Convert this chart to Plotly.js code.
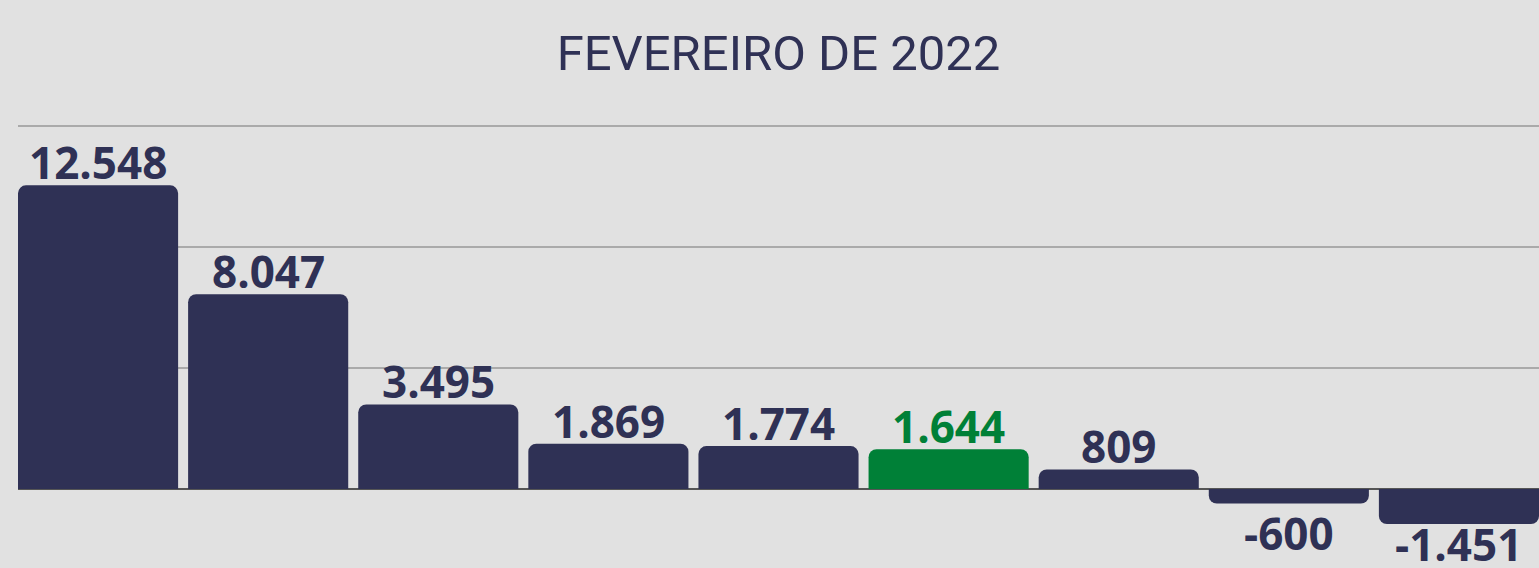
<!DOCTYPE html>
<html>
<head>
<meta charset="utf-8">
<script src="https://cdn.plot.ly/plotly-3.0.1.min.js"></script>
<style>
html,body{margin:0;padding:0;background:#e1e1e1;}
#chart{width:1539px;height:568px;}
</style>
</head>
<body>
<div id="chart"></div>
<script>
const categories = ["A", "B", "C", "D", "E", "F", "G", "H", "I"];
const values = [12548, 8047, 3495, 1869, 1774, 1644, 809, -600, -1451];
const highlight = [false, false, false, false, false, true, false, false, false];
const titleText = "FEVEREIRO DE 2022";

const NAVY = "#2f3155";
const GREEN = "#008037";
const W = 1539, H = 568;
const M = {l: 18, r: 0, t: 100, b: 0};
const YR = [-3264, 16074];
const LABEL_SIZE = 44;

function fmt(v) {
  const s = Math.abs(v).toString().replace(/\B(?=(\d{3})+(?!\d))/g, ".");
  return (v < 0 ? "-" : "") + s;
}

const colors = highlight.map(h => h ? GREEN : NAVY);

// pixel helpers to keep negative labels inside the picture
const plotH = H - M.t - M.b;
const pxPerUnit = plotH / (YR[1] - YR[0]);
const zeroPx = M.t + YR[1] * pxPerUnit;

const annotations = values.map((v, i) => {
  const a = {
    x: i, y: v, xref: "x", yref: "y",
    text: fmt(v), showarrow: false,
    font: {family: "Open Sans, Noto Sans, sans-serif", size: LABEL_SIZE, color: colors[i], weight: 700},
    xanchor: "center"
  };
  if (v >= 0) {
    a.yanchor = "bottom";
    a.yshift = -9;
  } else {
    a.yanchor = "top";
    const barBottom = zeroPx - v * pxPerUnit;
    const baseline = barBottom + 45;
    a.yshift = 3 + Math.max(0, baseline - (H - 8));
  }
  return a;
});

const trace = {
  type: "bar",
  x: categories,
  y: values,
  marker: {color: colors},
  hoverinfo: "none"
};

const layout = {
  width: W,
  height: H,
  paper_bgcolor: "#e1e1e1",
  plot_bgcolor: "#e1e1e1",
  margin: M,
  showlegend: false,
  bargap: 0.0588,
  barcornerradius: 8,
  annotations: annotations,
  title: {
    text: titleText,
    font: {family: "Roboto, sans-serif", size: 49, color: NAVY, weight: 400},
    x: 0.5, xref: "paper", xanchor: "center",
    y: 1 - 53 / 568, yref: "container", yanchor: "middle"
  },
  xaxis: {
    type: "category",
    range: [-0.4706, 8.4706],
    showticklabels: false,
    showgrid: false,
    zeroline: false,
    showline: false,
    fixedrange: true
  },
  yaxis: {
    range: YR,
    tickvals: [5000, 10000, 15000],
    showticklabels: false,
    showgrid: true,
    gridcolor: "#aaaaaa",
    gridwidth: 2,
    zeroline: true,
    zerolinecolor: "#555555",
    zerolinewidth: 2,
    showline: false,
    fixedrange: true
  }
};

Plotly.newPlot("chart", [trace], layout, {displayModeBar: false, staticPlot: true});
</script>
</body>
</html>
